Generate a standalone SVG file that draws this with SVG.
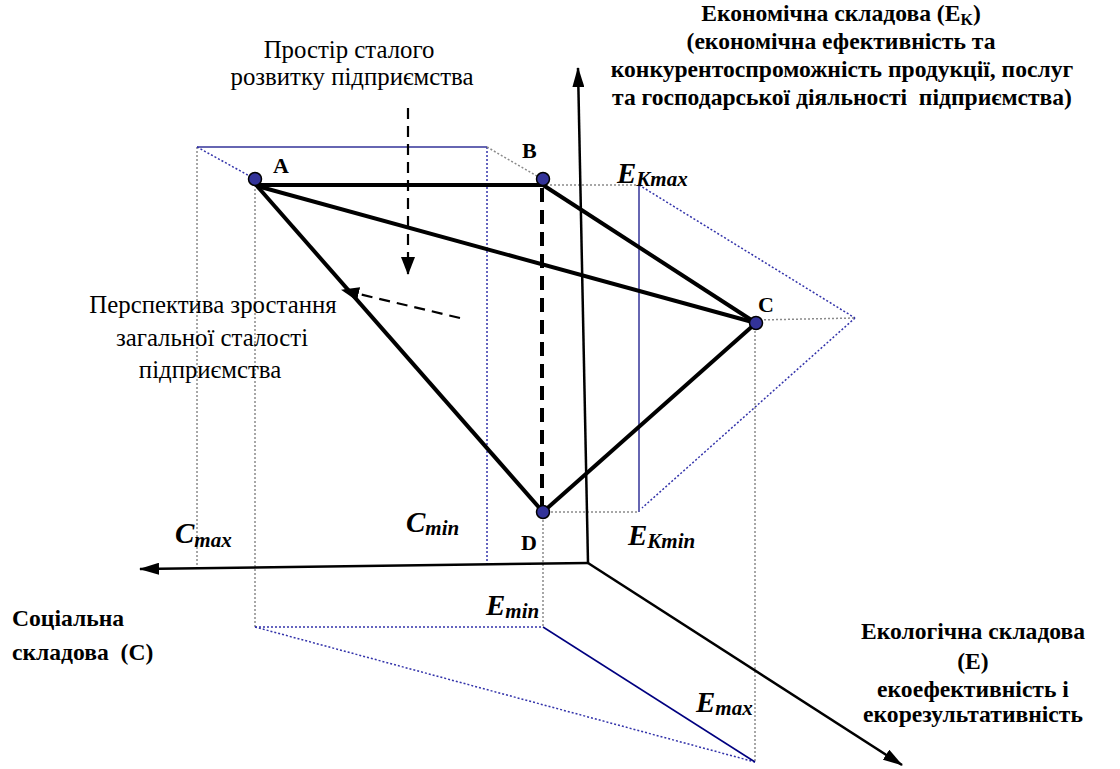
<svg xmlns="http://www.w3.org/2000/svg" width="1120" height="769" viewBox="0 0 1120 769">
<style>
.thick{stroke:#000;stroke-width:4;fill:none}
.dash{stroke:#000;stroke-width:4;fill:none;stroke-dasharray:14,8}
.thin{stroke:#000;stroke-width:2.2;fill:none;stroke-dasharray:11,7}
.axis{stroke:#000;stroke-width:2.5;fill:none}
.gdot{stroke:#8a8a8a;stroke-width:1.5;fill:none;stroke-dasharray:2,2}
.bdot{stroke:#3333aa;stroke-width:1.5;fill:none;stroke-dasharray:2,2}
.blue{stroke:#333399;stroke-width:1.5;fill:none}
.navy{stroke:#000080;stroke-width:1.5;fill:none}
.pt{fill:#333399;stroke:#000;stroke-width:1.5}
text{font-family:"Liberation Serif","Times New Roman",serif;fill:#000}
.t{font-size:24.8px}
.b{font-size:23.6px;font-weight:bold}
.lab{font-size:22px;font-weight:bold}
.m{font-size:29px;font-weight:bold;font-style:italic}
.s{font-size:21px}
</style>
<defs>
<marker id="ah" markerUnits="userSpaceOnUse" markerWidth="20" markerHeight="12" viewBox="0 0 20 12" refX="19" refY="6" orient="auto">
<path d="M0,0 L20,6 L0,12 z" fill="#000"/>
</marker>
<marker id="ah2" markerUnits="userSpaceOnUse" markerWidth="18" markerHeight="14" viewBox="0 0 18 14" refX="17" refY="7" orient="auto">
<path d="M0,0 L18,7 L0,14 z" fill="#000"/>
</marker>
</defs>

<g id="guides">
<line class="gdot" x1="197" y1="147" x2="197" y2="567"/>
<line class="gdot" x1="255" y1="185" x2="255" y2="627"/>
<line class="blue" x1="197" y1="147" x2="487" y2="147"/>
<line class="bdot" x1="197" y1="147" x2="255" y2="179"/>
<line class="bdot" x1="487" y1="147" x2="487" y2="566"/>
<line class="gdot" x1="487" y1="147" x2="542" y2="179"/>
<line class="gdot" x1="542" y1="185" x2="639" y2="185"/>
<line class="blue" x1="639" y1="185" x2="639" y2="512"/>
<line class="bdot" x1="639" y1="185" x2="855" y2="318"/>
<line class="bdot" x1="855" y1="318" x2="642" y2="508"/>
<line class="gdot" x1="756" y1="320" x2="855" y2="318"/>
<line class="gdot" x1="755" y1="323" x2="755" y2="762"/>
<line class="gdot" x1="543" y1="512" x2="639" y2="512"/>
<line class="gdot" x1="543" y1="512" x2="543" y2="627"/>
<line class="bdot" x1="255" y1="627" x2="543" y2="627"/>
<line class="bdot" x1="255" y1="627" x2="755" y2="762"/>
<line class="navy" x1="543" y1="627" x2="755" y2="762"/>
</g>

<g id="connectors">
<line class="axis" x1="588" y1="563" x2="578" y2="68" marker-end="url(#ah)"/>
<line class="axis" x1="588" y1="563" x2="140" y2="569" marker-end="url(#ah)"/>
<line class="axis" x1="588" y1="563" x2="902" y2="765" marker-end="url(#ah)"/>
<line class="thick" x1="255" y1="185" x2="543" y2="185"/>
<line class="thick" x1="257" y1="186" x2="756" y2="323"/>
<line class="thick" x1="543" y1="185" x2="756" y2="323"/>
<line class="thick" x1="257" y1="186" x2="543" y2="512"/>
<line class="thick" x1="543" y1="512" x2="756" y2="323"/>
<line class="dash" x1="542" y1="188" x2="542" y2="508"/>
<line class="thin" x1="408" y1="108" x2="408" y2="274" marker-end="url(#ah2)"/>
<line class="thin" x1="460" y1="318" x2="342" y2="290" marker-end="url(#ah2)"/>
</g>

<g id="nodeA"><circle class="pt" cx="255" cy="179" r="6.5"/><text class="lab" x="273" y="173">A</text></g>
<g id="nodeB"><circle class="pt" cx="543" cy="179" r="6.5"/><text class="lab" x="522" y="158">B</text></g>
<g id="nodeC"><circle class="pt" cx="756" cy="323" r="6.5"/><text class="lab" x="758" y="312">C</text></g>
<g id="nodeD"><circle class="pt" cx="543" cy="512" r="6.5"/><text class="lab" x="521" y="550">D</text></g>

<g id="labels">
<text class="m" x="617" y="183">E<tspan class="s" dy="3">Kmax</tspan></text>
<text class="m" x="628" y="545">E<tspan class="s" dy="3">Kmin</tspan></text>
<text class="m" x="175" y="543">C<tspan class="s" dy="4">max</tspan></text>
<text class="m" x="406" y="532">C<tspan class="s" dy="3">min</tspan></text>
<text class="m" x="486" y="615">E<tspan class="s" dy="3">min</tspan></text>
<text class="m" x="696" y="712">E<tspan class="s" dy="3">max</tspan></text>
</g>

<g id="spaceText">
<text class="t" x="349" y="58" text-anchor="middle">Простір сталого</text>
<text class="t" x="352" y="85" text-anchor="middle">розвитку підприємства</text>
</g>
<g id="perspText">
<text class="t" x="213" y="313" text-anchor="middle">Перспектива зростання</text>
<text class="t" x="212" y="346" text-anchor="middle">загальної сталості</text>
<text class="t" x="210" y="378" text-anchor="middle">підприємства</text>
</g>
<g id="econText">
<text class="b" x="841" y="21" text-anchor="middle">Економічна складова (E<tspan font-size="16" dy="4">K</tspan><tspan dy="-4">)</tspan></text>
<text class="b" x="841" y="49" text-anchor="middle">(економічна ефективність та</text>
<text class="b" x="842" y="77" text-anchor="middle">конкурентоспроможність продукції, послуг</text>
<text class="b" x="842" y="105" text-anchor="middle" xml:space="preserve">та господарської діяльності  підприємства)</text>
</g>
<g id="socText">
<text class="b" x="12" y="626">Соціальна</text>
<text class="b" x="12" y="660" xml:space="preserve">складова  (С)</text>
</g>
<g id="ecoText">
<text class="b" x="973" y="639" text-anchor="middle">Екологічна складова</text>
<text class="b" x="973" y="669" text-anchor="middle">(E)</text>
<text class="b" x="973" y="697" text-anchor="middle">екоефективність і</text>
<text class="b" x="973" y="722" text-anchor="middle">екорезультативність</text>
</g>
</svg>
